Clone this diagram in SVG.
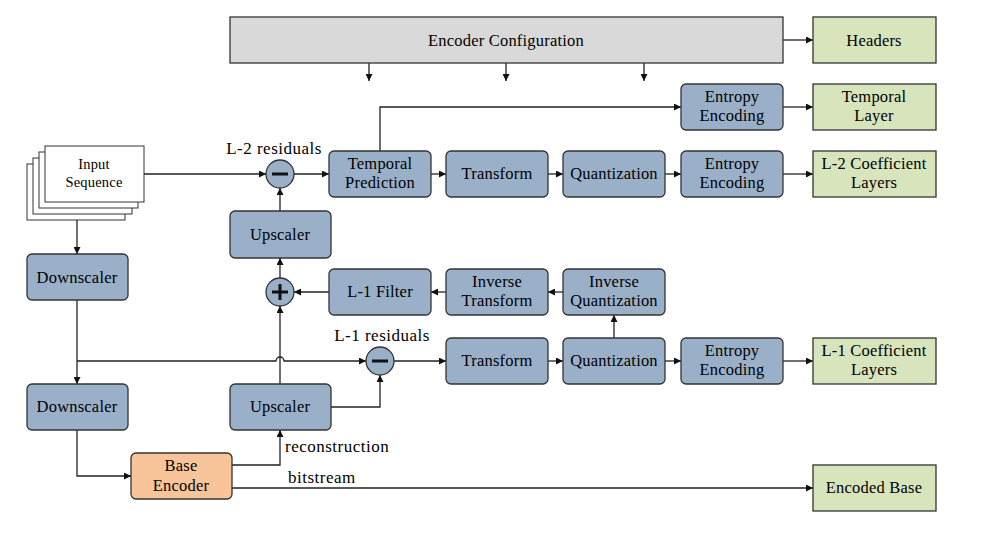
<svg xmlns="http://www.w3.org/2000/svg" width="999" height="535" viewBox="0 0 999 535">
<style>
text{font-family:"Liberation Serif","DejaVu Serif",serif;font-size:16.5px;fill:#000;text-anchor:middle;letter-spacing:0.2px}
.l{font-size:17px;letter-spacing:0.5px}
.b{fill:#9AB0C8;stroke:#333;stroke-width:1.3}
.g{fill:#D8E4BC;stroke:#333;stroke-width:1.3}
.c{fill:none;stroke:#222;stroke-width:1.3}
.a{marker-end:url(#ah)}
.sg{stroke:#111;stroke-width:3;fill:none}
</style>
<defs>
<marker id="ah" viewBox="0 0 10 10" refX="10" refY="5" markerWidth="7" markerHeight="7" markerUnits="userSpaceOnUse" orient="auto"><path d="M0,0L10,5L0,10z" fill="#111"/></marker>
</defs>
<g id="connectors">
<path class="c a" d="M783,40H813"/>
<path class="c a" d="M369,63V81"/>
<path class="c a" d="M506,63V81"/>
<path class="c a" d="M644,63V81"/>
<path class="c a" d="M380,151V107H681"/>
<path class="c a" d="M783,107H813"/>
<path class="c a" d="M144,174H266"/>
<path class="c a" d="M294,174H329"/>
<path class="c a" d="M431,174H446"/>
<path class="c a" d="M548,174H563"/>
<path class="c a" d="M665,174H681"/>
<path class="c a" d="M783,174H813"/>
<path class="c a" d="M280,211V188"/>
<path class="c a" d="M280,278V258"/>
<path class="c a" d="M329,292H294"/>
<path class="c a" d="M446,292H431"/>
<path class="c a" d="M563,292H548"/>
<path class="c a" d="M614,338V315"/>
<path class="c a" d="M77,220V254"/>
<path class="c a" d="M77,300V384"/>
<path class="c a" d="M77,361H276A4,4 0 0 1 284,361H366"/>
<path class="c a" d="M394,361H446"/>
<path class="c a" d="M548,361H563"/>
<path class="c a" d="M665,361H681"/>
<path class="c a" d="M783,361H813"/>
<path class="c a" d="M280,384V306"/>
<path class="c a" d="M331,407H380V375"/>
<path class="c a" d="M77,430V476H131"/>
<path class="c a" d="M232,465H280V430"/>
<path class="c a" d="M232,488H813"/>
</g>
<g id="encoder-config"><rect x="230" y="17" width="553" height="46" fill="#D9D9D9" stroke="#333" stroke-width="1.3"/><text x="506" y="46">Encoder Configuration</text></g>
<g id="headers"><rect class="g" x="813" y="17" width="123" height="46"/><text x="874" y="46">Headers</text></g>
<g id="entropy-top"><rect class="b" x="681" y="84" width="102" height="46" rx="5"/><text x="732" y="102">Entropy</text><text x="732" y="121">Encoding</text></g>
<g id="temporal-layer"><rect class="g" x="813" y="84" width="123" height="46"/><text x="874" y="102">Temporal</text><text x="874" y="121">Layer</text></g>
<g id="input-sequence">
<rect x="27" y="164" width="98" height="56" fill="#fff" stroke="#333" stroke-width="1"/>
<rect x="33" y="158" width="99" height="56" fill="#fff" stroke="#333" stroke-width="1"/>
<rect x="39" y="152" width="99" height="56" fill="#fff" stroke="#333" stroke-width="1"/>
<rect x="45" y="146" width="99" height="56" fill="#fff" stroke="#333" stroke-width="1"/>
<text x="94" y="169" style="font-size:14.5px">Input</text><text x="94" y="187" style="font-size:14.5px">Sequence</text>
</g>
<text class="l" x="274" y="154">L-2 residuals</text>
<g id="minus-l2"><circle class="b" cx="280" cy="174" r="14"/><path class="sg" d="M272,174H288"/></g>
<g id="temporal-prediction"><rect class="b" x="329" y="151" width="102" height="46" rx="5"/><text x="380" y="169">Temporal</text><text x="380" y="188">Prediction</text></g>
<g id="transform-l2"><rect class="b" x="446" y="151" width="102" height="46" rx="5"/><text x="497" y="179">Transform</text></g>
<g id="quantization-l2"><rect class="b" x="563" y="151" width="102" height="46" rx="5"/><text x="614" y="179">Quantization</text></g>
<g id="entropy-l2"><rect class="b" x="681" y="151" width="102" height="46" rx="5"/><text x="732" y="169">Entropy</text><text x="732" y="188">Encoding</text></g>
<g id="l2-coeff"><rect class="g" x="813" y="151" width="123" height="46"/><text x="874" y="169">L-2 Coefficient</text><text x="874" y="188">Layers</text></g>
<g id="upscaler-top"><rect class="b" x="230" y="211" width="101" height="47" rx="5"/><text x="280" y="240">Upscaler</text></g>
<g id="downscaler-1"><rect class="b" x="27" y="254" width="101" height="46" rx="5"/><text x="77" y="283">Downscaler</text></g>
<g id="plus"><circle class="b" cx="280" cy="292" r="14"/><path class="sg" d="M272,292H288M280,284V300"/></g>
<g id="l1-filter"><rect class="b" x="329" y="269" width="102" height="46" rx="5"/><text x="380" y="297">L-1 Filter</text></g>
<g id="inverse-transform"><rect class="b" x="446" y="269" width="102" height="46" rx="5"/><text x="497" y="287">Inverse</text><text x="497" y="306">Transform</text></g>
<g id="inverse-quantization"><rect class="b" x="563" y="269" width="102" height="46" rx="5"/><text x="614" y="287">Inverse</text><text x="614" y="306">Quantization</text></g>
<text class="l" x="382" y="341">L-1 residuals</text>
<g id="minus-l1"><circle class="b" cx="380" cy="361" r="14"/><path class="sg" d="M372,361H388"/></g>
<g id="transform-l1"><rect class="b" x="446" y="338" width="102" height="46" rx="5"/><text x="497" y="366">Transform</text></g>
<g id="quantization-l1"><rect class="b" x="563" y="338" width="102" height="46" rx="5"/><text x="614" y="366">Quantization</text></g>
<g id="entropy-l1"><rect class="b" x="681" y="338" width="102" height="46" rx="5"/><text x="732" y="356">Entropy</text><text x="732" y="375">Encoding</text></g>
<g id="l1-coeff"><rect class="g" x="813" y="338" width="123" height="46"/><text x="874" y="356">L-1 Coefficient</text><text x="874" y="375">Layers</text></g>
<g id="downscaler-2"><rect class="b" x="27" y="384" width="101" height="46" rx="5"/><text x="77" y="412">Downscaler</text></g>
<g id="upscaler-bottom"><rect class="b" x="230" y="384" width="101" height="46" rx="5"/><text x="280" y="412">Upscaler</text></g>
<text class="l" x="285" y="452" style="text-anchor:start">reconstruction</text>
<g id="base-encoder"><rect x="131" y="453" width="101" height="46" rx="5" fill="#F8C59B" stroke="#333" stroke-width="1.3"/><text x="181" y="471">Base</text><text x="181" y="491">Encoder</text></g>
<text class="l" x="288" y="483" style="text-anchor:start">bitstream</text>
<g id="encoded-base"><rect class="g" x="813" y="465" width="123" height="46"/><text x="874" y="493">Encoded Base</text></g>
</svg>
